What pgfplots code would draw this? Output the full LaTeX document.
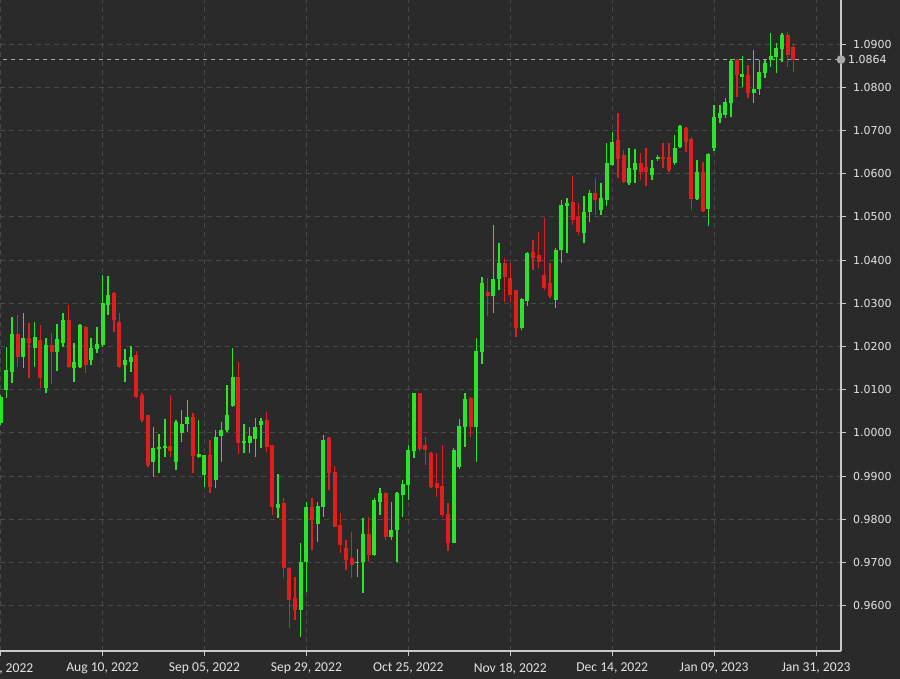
\documentclass[border=0pt]{standalone}
\usepackage{fontspec}
\usepackage{pgfplots}
\usepackage{pgfplotstable}
\pgfplotsset{compat=1.18}

\newfontfamily\ylabfont{DejaVu Sans}
\newfontfamily\xlabfont{Carlito}

\definecolor{bgcol}{HTML}{2A2A2A}
\definecolor{upgreen}{HTML}{2AE42A}
\definecolor{downred}{HTML}{E01E1E}
\definecolor{gridcol}{HTML}{484848}
\definecolor{axcol}{HTML}{C8C8C8}
\definecolor{labcol}{HTML}{E4E4E4}
\definecolor{lastcol}{HTML}{A8A8A8}

% candles that closed higher: i open high low close
\pgfplotstableread{
i o h l c
0 1.0023 1.0088 1.0018 1.0083
1 1.0099 1.0199 1.0081 1.0145
2 1.0141 1.0268 1.0115 1.0229
4 1.0176 1.0277 1.0150 1.0219
6 1.0196 1.0257 1.0152 1.0222
8 1.0104 1.0219 1.0092 1.0203
10 1.0187 1.0252 1.0143 1.0217
11 1.0208 1.0277 1.0199 1.0261
13 1.0150 1.0208 1.0118 1.0164
14 1.0152 1.0252 1.0150 1.0250
16 1.0169 1.0219 1.0157 1.0196
17 1.0194 1.0245 1.0185 1.0206
18 1.0203 1.0365 1.0199 1.0301
19 1.0296 1.0363 1.0273 1.0319
22 1.0157 1.0194 1.0118 1.0169
23 1.0164 1.0201 1.0141 1.0176
27 0.9933 1.0014 0.9898 0.9965
28 0.9963 0.9997 0.9907 0.9967
29 0.9965 1.0032 0.9944 0.9970
31 0.9933 1.0030 0.9914 1.0025
32 1.0000 1.0053 0.9979 1.0020
33 1.0020 1.0076 1.0002 1.0037
35 0.9944 1.0030 0.9942 0.9951
36 0.9902 0.9949 0.9875 0.9949
38 0.9891 1.0007 0.9872 0.9990
39 0.9993 1.0025 0.9933 1.0007
40 1.0007 1.0111 1.0002 1.0041
41 1.0062 1.0196 1.0060 1.0129
43 0.9977 1.0020 0.9953 0.9981
44 0.9977 1.0014 0.9953 0.9993
45 0.9986 1.0034 0.9944 1.0014
46 1.0018 1.0034 0.9965 1.0027
49 0.9826 0.9905 0.9803 0.9835
53 0.9590 0.9745 0.9527 0.9701
54 0.9701 0.9840 0.9632 0.9828
56 0.9789 0.9840 0.9747 0.9831
57 0.9828 0.9995 0.9805 0.9983
63 0.9699 0.9731 0.9666 0.9701
64 0.9701 0.9803 0.9629 0.9766
66 0.9717 0.9849 0.9715 0.9845
67 0.9840 0.9872 0.9810 0.9861
69 0.9759 0.9840 0.9752 0.9775
70 0.9775 0.9863 0.9701 0.9861
71 0.9856 0.9891 0.9805 0.9882
72 0.9879 0.9972 0.9845 0.9960
73 0.9958 1.0092 0.9942 1.0092
80 0.9745 0.9965 0.9745 0.9960
81 0.9921 1.0032 0.9916 1.0016
82 1.0014 1.0092 0.9967 1.0078
84 1.0014 1.0219 0.9933 1.0189
85 1.0187 1.0361 1.0159 1.0347
87 1.0317 1.0481 1.0277 1.0356
88 1.0356 1.0439 1.0331 1.0393
92 1.0243 1.0312 1.0238 1.0310
93 1.0305 1.0419 1.0294 1.0416
98 1.0307 1.0428 1.0289 1.0423
99 1.0423 1.0539 1.0393 1.0527
100 1.0525 1.0544 1.0416 1.0532
103 1.0463 1.0548 1.0439 1.0511
104 1.0511 1.0562 1.0488 1.0555
106 1.0516 1.0578 1.0504 1.0544
107 1.0539 1.0671 1.0525 1.0625
108 1.0620 1.0696 1.0617 1.0673
111 1.0578 1.0659 1.0574 1.0613
112 1.0608 1.0657 1.0578 1.0625
115 1.0597 1.0632 1.0585 1.0613
116 1.0634 1.0643 1.0629 1.0639
119 1.0625 1.0689 1.0620 1.0659
120 1.0662 1.0713 1.0659 1.0710
123 1.0541 1.0632 1.0539 1.0604
125 1.0518 1.0648 1.0479 1.0645
126 1.0659 1.0759 1.0652 1.0731
127 1.0729 1.0759 1.0717 1.0740
128 1.0736 1.0775 1.0729 1.0766
129 1.0764 1.0865 1.0731 1.0861
131 1.0824 1.0872 1.0801 1.0831
133 1.0787 1.0886 1.0764 1.0796
134 1.0796 1.0863 1.0782 1.0835
135 1.0833 1.0863 1.0821 1.0856
136 1.0863 1.0926 1.0847 1.0872
137 1.0870 1.0902 1.0833 1.0891
138 1.0888 1.0926 1.0858 1.0921
}\upcandles

% candles that closed lower
\pgfplotstableread{
i o h l c
3 1.0229 1.0273 1.0152 1.0176
5 1.0219 1.0254 1.0127 1.0208
7 1.0215 1.0250 1.0104 1.0127
9 1.0203 1.0231 1.0113 1.0187
12 1.0261 1.0296 1.0150 1.0152
15 1.0245 1.0247 1.0138 1.0157
20 1.0324 1.0326 1.0233 1.0261
21 1.0257 1.0277 1.0150 1.0152
24 1.0180 1.0189 1.0081 1.0083
25 1.0088 1.0092 1.0025 1.0030
26 1.0041 1.0041 0.9921 0.9926
30 0.9970 1.0088 0.9944 0.9958
34 1.0037 1.0046 0.9907 0.9946
37 0.9949 0.9983 0.9861 0.9875
42 1.0129 1.0164 0.9951 0.9977
47 1.0030 1.0048 0.9956 0.9967
48 0.9972 0.9972 0.9810 0.9828
50 0.9838 0.9849 0.9664 0.9687
51 0.9687 0.9689 0.9548 0.9613
52 0.9618 0.9666 0.9567 0.9590
55 0.9828 0.9849 0.9729 0.9798
58 0.9988 0.9990 0.9868 0.9907
59 0.9909 0.9923 0.9782 0.9782
60 0.9787 0.9814 0.9722 0.9740
61 0.9733 0.9752 0.9683 0.9706
62 0.9710 0.9770 0.9664 0.9694
65 0.9766 0.9805 0.9701 0.9717
68 0.9861 0.9863 0.9752 0.9759
74 1.0092 1.0092 0.9958 0.9963
75 0.9972 0.9990 0.9926 0.9960
76 0.9953 0.9956 0.9872 0.9875
77 0.9884 0.9953 0.9852 0.9872
78 0.9877 0.9972 0.9805 0.9810
79 0.9812 0.9838 0.9726 0.9745
83 1.0081 1.0083 0.9990 1.0014
86 1.0326 1.0358 1.0270 1.0317
89 1.0393 1.0405 1.0303 1.0361
90 1.0358 1.0393 1.0301 1.0319
91 1.0331 1.0331 1.0222 1.0243
94 1.0419 1.0446 1.0377 1.0405
95 1.0412 1.0465 1.0382 1.0395
96 1.0365 1.0497 1.0331 1.0335
97 1.0347 1.0393 1.0312 1.0317
101 1.0534 1.0595 1.0481 1.0493
102 1.0500 1.0532 1.0458 1.0465
105 1.0555 1.0590 1.0504 1.0539
109 1.0678 1.0740 1.0590 1.0634
110 1.0643 1.0655 1.0578 1.0581
113 1.0625 1.0648 1.0585 1.0604
114 1.0615 1.0659 1.0571 1.0604
117 1.0639 1.0671 1.0613 1.0634
118 1.0639 1.0671 1.0604 1.0608
121 1.0706 1.0708 1.0650 1.0673
122 1.0680 1.0685 1.0516 1.0541
124 1.0604 1.0627 1.0511 1.0513
130 1.0863 1.0865 1.0777 1.0828
132 1.0828 1.0851 1.0775 1.0787
139 1.0921 1.0928 1.0847 1.0875
140 1.0893 1.0902 1.0835 1.0864
}\downcandles

\pgfplotsset{
  candlepart/.style 2 args={draw=none, mark=none, forget plot,
    error bars/.cd, y dir=plus, y explicit, error mark=none,
    error bar style={draw=#1, solid, line width=#2}},
}

\begin{document}
\begin{tikzpicture}
\path[use as bounding box] (0,-14pt) rectangle (450pt,325.5pt);
\clip (0,-14pt) rectangle (450pt,325.5pt);
\fill[bgcol] (0,-14pt) rectangle (450pt,325.5pt);
\begin{axis}[
  at={(0,0)}, anchor=south west,
  scale only axis, width=420.5pt, height=325.5pt,
  xmin=-0.1, xmax=148.4, ymin=0.9495, ymax=1.10019,
  axis x line*=bottom, axis y line*=right,
  axis line style={draw=axcol, line width=0.6pt},
  tick align=outside, major tick length=2.5pt,
  tick style={draw=axcol, line width=0.5pt},
  xtick={0,18,36,54,72,90,108,126,144},
  xticklabels={{Jul 15, 2022},{Aug 10, 2022},{Sep 05, 2022},{Sep 29, 2022},{Oct 25, 2022},{Nov 18, 2022},{Dec 14, 2022},{Jan 09, 2023},{Jan 31, 2023}},
  ytick={0.96,0.97,0.98,0.99,1.00,1.01,1.02,1.03,1.04,1.05,1.06,1.07,1.08,1.09},
  yticklabels={0.9600,0.9700,0.9800,0.9900,1.0000,1.0100,1.0200,1.0300,1.0400,1.0500,1.0600,1.0700,1.0800,1.0900},
  extra y ticks={1.0864}, extra y tick labels={1.0864},
  extra y tick style={grid=none, major tick length=0pt},
  grid=major,
  major grid style={draw=gridcol, dash pattern=on 2.5pt off 2pt, line width=0.5pt},
  xticklabel style={font=\xlabfont\fontsize{6.8pt}{8pt}\selectfont, text=labcol},
  yticklabel style={font=\ylabfont\fontsize{5.5pt}{6.5pt}\selectfont, text=labcol, anchor=west},
  clip=false,
]
% last price line
\draw[draw=lastcol, dash pattern=on 2pt off 2pt, line width=0.5pt]
  (axis cs:-1,1.0864) -- (axis cs:148.4,1.0864);

% wicks
\addplot[candlepart={upgreen}{0.7pt}]
  table[x=i, y=l, y error plus expr=\thisrow{h}-\thisrow{l}] {\upcandles};
\addplot[candlepart={downred}{0.7pt}]
  table[x=i, y=l, y error plus expr=\thisrow{h}-\thisrow{l}] {\downcandles};
% bodies
\addplot[candlepart={upgreen}{2pt}]
  table[x=i, y=o, y error plus expr=\thisrow{c}-\thisrow{o}] {\upcandles};
\addplot[candlepart={downred}{2pt}]
  table[x=i, y=c, y error plus expr=\thisrow{o}-\thisrow{c}] {\downcandles};

\fill[lastcol] (axis cs:148.4,1.0864) circle (2.2pt);
\end{axis}
\end{tikzpicture}
\end{document}
